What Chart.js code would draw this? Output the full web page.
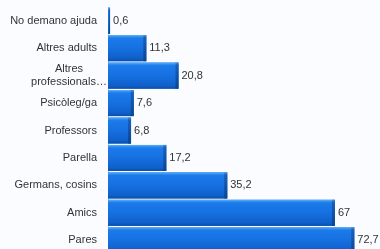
<!DOCTYPE html>
<html>
<head>
<meta charset="utf-8">
<script src="https://cdn.jsdelivr.net/npm/chart.js@4/dist/chart.umd.min.js"></script>
<style>
html,body{margin:0;padding:0;background:#fbfcff;overflow:hidden;width:380px;height:249px;}
canvas{display:block;}
</style>
</head>
<body>
<canvas id="c" width="380" height="254"></canvas>
<script>
const categories = ["No demano ajuda", "Altres adults", ["Altres", "professionals…"], "Psicòleg/ga", "Professors", "Parella", "Germans, cosins", "Amics", "Pares"];
const values = [0.6, 11.3, 20.8, 7.6, 6.8, 17.2, 35.2, 67, 72.7];
const axisMax = 80;

const FONT = "11px 'Liberation Sans', Arial, sans-serif";
const TEXT = "#333333";

const barShade = {
  id: 'barShade',
  afterDatasetsDraw(chart) {
    const ctx = chart.ctx;
    const meta = chart.getDatasetMeta(0);
    ctx.save();
    meta.data.forEach((el, i) => {
      const p = el.getProps(['x', 'y', 'base', 'height'], true);
      const left = Math.min(p.base, p.x), right = Math.max(p.base, p.x);
      const top = p.y - p.height / 2, bottom = p.y + p.height / 2;
      const w = right - left, h = bottom - top;
      const g = ctx.createLinearGradient(0, top, 0, bottom);
      g.addColorStop(0, '#62b2f7');
      g.addColorStop(0.06, '#3590f0');
      g.addColorStop(0.12, '#1c7aeb');
      g.addColorStop(0.5, '#1670e0');
      g.addColorStop(0.88, '#0f60cb');
      g.addColorStop(1, '#0a4ea8');
      ctx.fillStyle = g;
      ctx.fillRect(left, top, w, h);
      const ew = Math.min(3, w / 2);
      const g2 = ctx.createLinearGradient(0, top, 0, bottom);
      g2.addColorStop(0, '#4a90d8');
      g2.addColorStop(0.1, '#1a5fb8');
      g2.addColorStop(1, '#0b468f');
      ctx.fillStyle = g2;
      ctx.fillRect(right - ew, top, ew, h);
      // value label
      ctx.fillStyle = TEXT;
      ctx.font = FONT;
      ctx.textAlign = 'left';
      ctx.textBaseline = 'middle';
      ctx.fillText(String(values[i]).replace('.', ','), right + 3, p.y);
    });
    ctx.restore();
  },
  afterDraw(chart) {
    const ctx = chart.ctx;
    const ys = chart.scales.y;
    ctx.save();
    ctx.fillStyle = TEXT;
    ctx.font = FONT;
    ctx.textBaseline = 'middle';
    categories.forEach((lab, i) => {
      const y = ys.getPixelForTick(i);
      if (Array.isArray(lab)) {
        ctx.textAlign = 'center';
        const lh = 13;
        const y0 = y - (lab.length - 1) * lh / 2;
        lab.forEach((t, k) => ctx.fillText(t, 69, y0 + k * lh));
      } else {
        ctx.textAlign = 'right';
        ctx.fillText(lab, 97, y);
      }
    });
    ctx.restore();
  }
};

new Chart(document.getElementById('c'), {
  type: 'bar',
  data: {
    labels: categories,
    datasets: [{
      data: values,
      backgroundColor: '#1670e0',
      borderWidth: 0,
      barPercentage: 0.95,
      categoryPercentage: 1.0
    }]
  },
  options: {
    indexAxis: 'y',
    responsive: false,
    animation: false,
    events: [],
    layout: { padding: { top: 7, right: 1, bottom: 0, left: 0 } },
    plugins: { legend: { display: false }, tooltip: { enabled: false } },
    scales: {
      x: { display: false, min: 0, max: axisMax },
      y: {
        grid: { display: false },
        border: { display: true, color: '#c4c9d4', width: 1 },
        ticks: { display: false },
        afterFit(s) { s.width = 108; }
      }
    }
  },
  plugins: [barShade]
});
</script>
</body>
</html>
